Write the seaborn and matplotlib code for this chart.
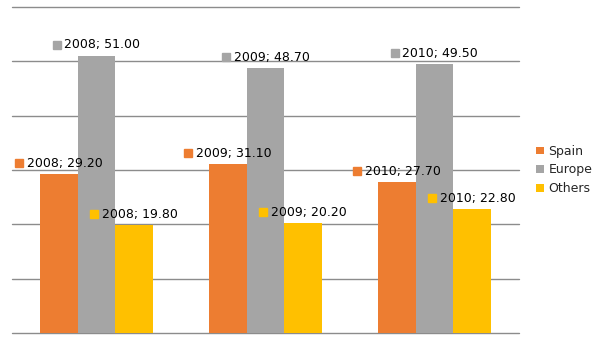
import matplotlib
matplotlib.use("Agg")
import matplotlib.pyplot as plt
import matplotlib.transforms as mtransforms
import seaborn as sns
import pandas as pd
from matplotlib.patches import Patch

years = ["2008", "2009", "2010"]
series = ["Spain", "Europe", "Others"]
spain = [29.2, 31.1, 27.7]
europe = [51.0, 48.7, 49.5]
others = [19.8, 20.2, 22.8]
colors = ["#ED7D31", "#A5A5A5", "#FFC000"]
yticks = [0, 10, 20, 30, 40, 50, 60]

rows = []
for name, vals in zip(series, [spain, europe, others]):
    for y, v in zip(years, vals):
        rows.append({"year": y, "series": name, "value": v})
df = pd.DataFrame(rows)

sns.set_style("white")
plt.rcParams["font.family"] = ["DejaVu Sans"]

fig = plt.figure(figsize=(6.05, 3.4), dpi=100)
ax = fig.add_axes([12 / 605, 7 / 340, 507 / 605, 326 / 340])

for t in yticks:
    ax.axhline(t, color="#8c8c8c", linewidth=1.0, clip_on=False, zorder=0)

sns.barplot(data=df, x="year", y="value", hue="series", hue_order=series,
            order=years, palette=colors, saturation=1, width=0.667,
            linewidth=0, legend=False, ax=ax, errorbar=None, zorder=2)

ax.set_ylim(0, 60)
ax.set_xlim(-0.5, 2.5)
for s in ax.spines.values():
    s.set_visible(False)
ax.tick_params(left=False, bottom=False, labelleft=False, labelbottom=False)
ax.set_xlabel("")
ax.set_ylabel("")

for cont, col in zip(ax.containers, colors):
    for bar, yr in zip(cont, years):
        h = bar.get_height()
        cx = bar.get_x() + bar.get_width() / 2
        ax.annotate(f"{yr}; {h:.2f}", xy=(cx, h), xytext=(-32, 11),
                    textcoords="offset pixels", ha="left", va="center",
                    fontsize=9, color="black", zorder=5)
        ln, = ax.plot([cx], [h], marker="s", markersize=5.2, color=col,
                      linestyle="none", clip_on=False, zorder=5)
        ln.set_transform(ax.transData + mtransforms.ScaledTranslation(
            -40 / 100, 11 / 100, fig.dpi_scale_trans))

handles = [Patch(facecolor=c, edgecolor="none", label=n) for n, c in zip(series, colors)]
fig.legend(handles=handles, loc="center left", bbox_to_anchor=(531 / 605, 0.5),
           frameon=False, fontsize=9, handlelength=0.6, handleheight=0.6,
           handletextpad=0.4, labelspacing=0.45, borderaxespad=0)

fig.savefig("out.png", dpi=100)
